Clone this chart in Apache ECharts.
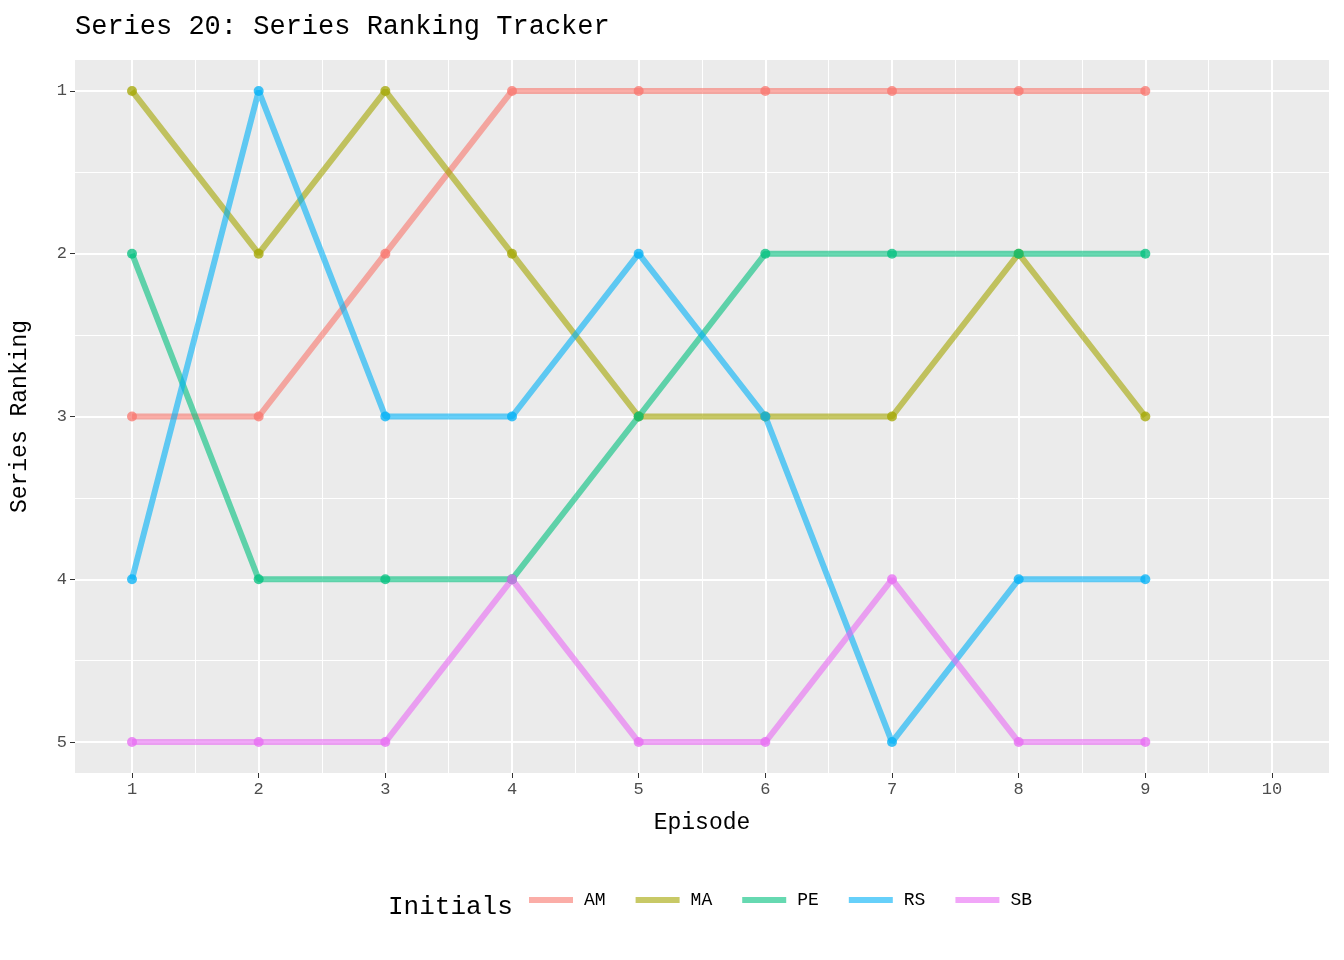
<!DOCTYPE html>
<html>
<head>
<meta charset="utf-8">
<script src="https://cdn.jsdelivr.net/npm/echarts@6/dist/echarts.min.js"></script>
<style>html,body{margin:0;padding:0;background:#fff}#main{width:1344px;height:960px}</style>
</head>
<body>
<div id="main"></div>
<script>
var episodes = [1, 2, 3, 4, 5, 6, 7, 8, 9];
var names = ['AM', 'MA', 'PE', 'RS', 'SB'];
var AM = [3, 3, 2, 1, 1, 1, 1, 1, 1];
var MA = [1, 2, 1, 2, 3, 3, 3, 2, 3];
var PE = [2, 4, 4, 4, 3, 2, 2, 2, 2];
var RS = [4, 1, 3, 3, 2, 3, 5, 4, 4];
var SB = [5, 5, 5, 4, 5, 5, 4, 5, 5];
var xTicks = [1, 2, 3, 4, 5, 6, 7, 8, 9, 10];
var yTicks = [1, 2, 3, 4, 5];
var colors = ['#F8766D', '#A3A500', '#00BF7D', '#00B0F6', '#E76BF3'];
var values = [AM, MA, PE, RS, SB];
var font = 'Liberation Mono';

var chart = echarts.init(document.getElementById('main'));
var gridLines = yTicks.map(function (v) { return {yAxis: v, lineStyle: {width: 2}}; })
  .concat([1.5, 2.5, 3.5, 4.5].map(function (v) { return {yAxis: v, lineStyle: {width: 1}}; }))
  .concat(xTicks.map(function (v) { return {xAxis: v, lineStyle: {width: 2}}; }))
  .concat([1.5, 2.5, 3.5, 4.5, 5.5, 6.5, 7.5, 8.5, 9.5].map(function (v) { return {xAxis: v, lineStyle: {width: 1}}; }));

var series = [{type: 'line', data: [], silent: true, z: 1,
  markLine: {silent: true, symbol: 'none', label: {show: false}, animation: false,
    lineStyle: {color: '#fff', type: 'solid'}, data: gridLines}}];
names.forEach(function (n, i) {
  series.push({name: n, type: 'line', symbol: 'circle', symbolSize: 10, z: 5,
    data: episodes.map(function (e, j) { return [e, values[i][j]]; }),
    lineStyle: {width: 6, opacity: 0.6},
    itemStyle: {color: colors[i], opacity: 0.75, borderWidth: 0}});
});

chart.setOption({
  backgroundColor: '#fff',
  color: colors,
  animation: false,
  title: {text: 'Series 20: Series Ranking Tracker', left: 70, top: 8,
    textStyle: {fontFamily: font, fontSize: 27, fontWeight: 'normal', color: '#000'}},
  graphic: [{type: 'text', left: 388, top: 894,
    style: {text: 'Initials', font: '26px "Liberation Mono"', fill: '#000'}}],
  legend: {bottom: 46, left: 524, itemWidth: 44, itemHeight: 6, itemGap: 30,
    data: names.map(function (n) { return {name: n, icon: 'rect'}; }),
    itemStyle: {opacity: 0.6},
    textStyle: {fontFamily: font, fontSize: 18, color: '#000', padding: [0, 0, 0, 6]}},
  grid: {left: 73, right: 15, top: 60, bottom: 187, show: true, backgroundColor: '#ebebeb', borderWidth: 0},
  xAxis: {type: 'value', min: 0.55, max: 10.45,
    name: 'Episode', nameLocation: 'middle', nameGap: 38,
    nameTextStyle: {fontFamily: font, fontSize: 23, color: '#000'},
    axisLine: {show: false},
    axisTick: {show: true, length: 5, lineStyle: {color: '#333'}, customValues: xTicks},
    axisLabel: {fontFamily: font, fontSize: 17, color: '#4d4d4d', customValues: xTicks},
    splitLine: {show: false}},
  yAxis: {type: 'value', inverse: true, min: 0.81, max: 5.19,
    name: 'Series Ranking', nameLocation: 'middle', nameGap: 44,
    nameTextStyle: {fontFamily: font, fontSize: 23, color: '#000'},
    axisLine: {show: false},
    axisTick: {show: true, length: 5, lineStyle: {color: '#333'}, customValues: yTicks},
    axisLabel: {fontFamily: font, fontSize: 17, color: '#4d4d4d', customValues: yTicks},
    splitLine: {show: false}},
  series: series
});
</script>
</body>
</html>
